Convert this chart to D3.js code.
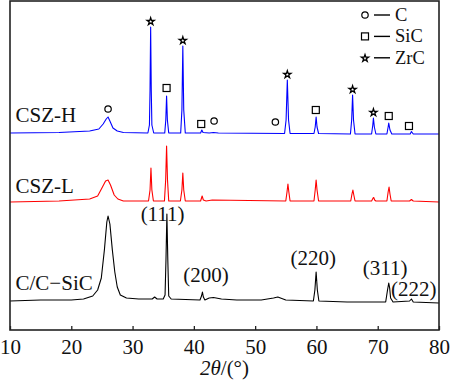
<!DOCTYPE html>
<html>
<head>
<meta charset="utf-8">
<script src="https://cdn.jsdelivr.net/npm/d3@7/dist/d3.min.js"></script>
<style>
  html, body { margin: 0; padding: 0; background: #fff; }
  svg { display: block; }
  text { font-family: "Liberation Serif", "Times New Roman", "DejaVu Serif", serif; fill: #111; }
</style>
</head>
<body>
<svg id="chart" width="450" height="382"></svg>
<script>
// ---- data (2θ in degrees, intensity in stacked a.u.) ----
const xTicks = [10, 20, 30, 40, 50, 60, 70, 80];

const ccsicPattern = [
  [10,29],[15,30],[20,30],[22,31],[23.5,34],[24.3,40],[24.9,52],[25.4,80],[25.8,108],[26.0,114],
  [26.3,106],[26.7,80],[27.1,58],[27.5,43],[28.0,35],[29,32],[31,31],[33.2,31],[33.6,33],[34.0,31],
  [35.0,31],[35.3,35],[35.45,70],[35.6,116],[35.75,70],[35.9,34],[36.3,31],[41.0,30],[41.25,34],
  [41.4,38],[41.55,33],[41.8,30],[42.5,32],[43.2,32.5],[44.5,31],[47,30],[51,30],[53,32],[53.7,33],
  [55,30],[59.5,29],[59.75,40],[59.95,58],[60.15,40],[60.4,29],[65,28],[71.3,28],[71.6,40],[71.8,47],
  [71.95,42],[72.1,32],[72.5,28],[75.2,29],[75.5,31],[75.8,28],[80,27]
];

const cszLPattern = [
  [10,128],[18,129],[23,131],[24.3,134],[25.0,142],[25.6,149],[26.0,150],[26.4,145],[27.0,135],
  [27.6,131],[28.5,129],[32.6,129],[32.85,140],[33.0,162],[33.15,140],[33.4,129],[35.2,129],
  [35.4,150],[35.55,184],[35.7,150],[35.9,129],[37.8,129],[38.05,140],[38.2,157],[38.35,140],
  [38.6,129],[41.1,129],[41.35,134],[41.55,130],[42,129],[43,130],[55.0,129],[55.2,138],[55.35,146],
  [55.5,138],[55.7,129],[59.6,129],[59.8,140],[59.95,150],[60.1,140],[60.35,129],[65.6,129],
  [65.8,136],[65.95,140],[66.1,135],[66.3,129],[69.0,129],[69.25,132],[69.35,132.5],[69.5,130],
  [69.7,129],[71.5,129],[71.7,138],[71.85,143],[72.0,136],[72.2,129],[75.2,129],[75.5,130.5],
  [75.8,129],[80,128]
];

const cszHPattern = [
  [10,197],[18,197.5],[23,199],[24.5,201],[25.2,206],[25.7,211],[26.0,213],[26.3,209],[26.8,202],
  [27.5,199],[28.5,197.5],[32.5,197],[32.75,205],[32.85,240],[32.95,303],[33.05,240],[33.15,205],
  [33.45,197],[35.25,197],[35.42,210],[35.55,234],[35.68,210],[35.9,197],[37.85,197],[38.05,220],
  [38.2,284],[38.35,220],[38.6,197],[41.1,197],[41.3,200],[41.5,197.5],[42.5,197],[43.2,197.5],
  [44,197],[54.8,196.5],[55.05,210],[55.25,250],[55.45,210],[55.7,196.5],[59.6,196.5],[59.8,203],
  [59.95,213],[60.1,203],[60.35,196.5],[65.55,196],[65.75,210],[65.9,235],[66.05,210],[66.3,196],
  [69.0,196],[69.2,205],[69.3,212],[69.45,203],[69.7,196],[71.5,196],[71.7,203],[71.8,207],
  [72.0,200],[72.3,196],[75.3,196],[75.5,198.5],[75.8,196],[80,196]
];

const seriesNames = ["C/C\u2212SiC", "CSZ-L", "CSZ-H"];
const seriesColors = ["#000000", "#ff0000", "#0000ff"];
const seriesLabelPos = [[10.9, 40], [10.9, 137], [10.9, 208]];

// phase markers on CSZ-H: [phase, 2θ, level]
const phaseMarkers = [
  ["C",26.0,221],["ZrC",32.95,309],["SiC",35.55,242],["ZrC",38.2,290],["SiC",41.2,206],
  ["C",43.3,209],["C",53.3,208],["ZrC",55.25,256],["SiC",59.9,220],["ZrC",65.9,241],
  ["ZrC",69.3,218],["SiC",71.8,214],["SiC",75.1,204]
];

// SiC reflections on C/C-SiC: [label, 2θ centre, baseline level]
const hklLabels = [
  ["(111)",34.9,109],["(200)",42.0,48],["(220)",59.5,65],["(311)",71.2,55],["(222)",75.9,34]
];

const legendPhases = ["C", "SiC", "ZrC"];

// ---- drawing ----
const svg = d3.select("#chart");
const mLeft = 10, mRight = 439, mTop = 1, mBottom = 330;

const x = d3.scaleLinear().domain([10, 80]).range([mLeft, mRight]);
const y = d3.scaleLinear().domain([0, 329]).range([mBottom, mTop]);

const line = d3.line().x(d => x(d[0])).y(d => y(d[1]));

const patterns = [ccsicPattern, cszLPattern, cszHPattern];
patterns.forEach((p, i) => {
  svg.append("path").datum(p)
    .attr("d", line)
    .attr("fill", "none")
    .attr("stroke", seriesColors[i])
    .attr("stroke-width", 1.1)
    .attr("stroke-linejoin", "round");
});

// frame
svg.append("rect")
  .attr("x", mLeft).attr("y", mTop)
  .attr("width", mRight - mLeft).attr("height", mBottom - mTop)
  .attr("fill", "none").attr("stroke", "#222").attr("stroke-width", 1.6);

// x axis
const xAxis = d3.axisBottom(x).tickValues(xTicks).tickSizeInner(-4).tickSizeOuter(0).tickPadding(9)
  .tickFormat(d3.format("d"));
const gx = svg.append("g").attr("transform", `translate(0,${mBottom})`).call(xAxis);
gx.select(".domain").remove();
gx.selectAll(".tick line").attr("stroke", "#222").attr("stroke-width", 1.3);
gx.selectAll(".tick text")
  .style("font-family", '"Liberation Serif", "Times New Roman", serif')
  .style("font-size", "21px").attr("fill", "#111");

// axis title
const title = svg.append("text")
  .attr("x", x(45)).attr("y", 375)
  .attr("text-anchor", "middle")
  .style("font-size", "21px");
title.append("tspan").style("font-style", "italic").text("2\u03b8");
title.append("tspan").text("/(\u00b0)");

// series labels
seriesNames.forEach((n, i) => {
  svg.append("text")
    .attr("x", x(seriesLabelPos[i][0])).attr("y", y(seriesLabelPos[i][1]))
    .style("font-size", "21px")
    .text(n);
});

// hkl labels
hklLabels.forEach(d => {
  svg.append("text")
    .attr("x", x(d[1])).attr("y", y(d[2]))
    .attr("text-anchor", "middle")
    .style("font-size", "21px")
    .text(d[0]);
});

// symbols
const star = d3.symbol().type(d3.symbolStar).size(16);
function drawSymbol(g, phase, cx, cy) {
  if (phase === "C") {
    g.append("circle").attr("cx", cx).attr("cy", cy).attr("r", 3.2)
      .attr("fill", "none").attr("stroke", "#000").attr("stroke-width", 1.2);
  } else if (phase === "SiC") {
    g.append("rect").attr("x", cx - 3.5).attr("y", cy - 3.5).attr("width", 7).attr("height", 7)
      .attr("fill", "none").attr("stroke", "#000").attr("stroke-width", 1.2);
  } else {
    g.append("path").attr("d", star).attr("transform", `translate(${cx},${cy + 0.5})`)
      .attr("fill", "#fff").attr("stroke", "#000").attr("stroke-width", 1.3)
      .attr("stroke-linejoin", "miter");
  }
}
const gm = svg.append("g");
phaseMarkers.forEach(d => drawSymbol(gm, d[0], x(d[1]), y(d[2])));

// legend
const gl = svg.append("g");
legendPhases.forEach((p, i) => {
  const cy = 15 + i * 21.4;
  drawSymbol(gl, p, 365, cy);
  gl.append("line").attr("x1", 374).attr("x2", 390).attr("y1", cy).attr("y2", cy)
    .attr("stroke", "#000").attr("stroke-width", 1.4);
  gl.append("text").attr("x", 395).attr("y", cy + 6)
    .style("font-size", "18.5px").text(p);
});
</script>
</body>
</html>
